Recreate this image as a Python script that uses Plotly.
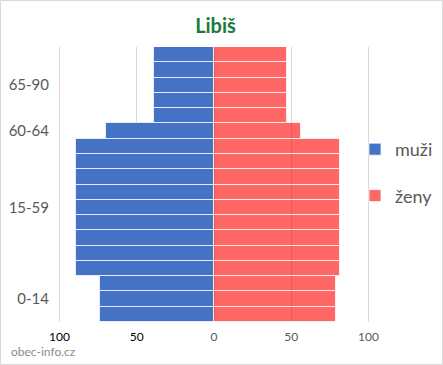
import plotly.graph_objects as go

# Data (one row per 5-year band, 0-14 at bottom)
row_index = list(range(18))
men = [74, 74, 74, 89.5, 89.5, 89.5, 89.5, 89.5, 89.5, 89.5, 89.5, 89.5, 70, 39, 39, 39, 39, 39]
women = [79, 79, 79, 81.5, 81.5, 81.5, 81.5, 81.5, 81.5, 81.5, 81.5, 81.5, 56, 47, 47, 47, 47, 47]
group_labels = ["0-14", "15-59", "60-64", "65-90"]
group_centers = [1, 7, 12, 15]
x_tickvals = [-100, -50, 0, 50, 100]
x_ticktext = ["100", "50", "0", "50", "100"]

font = "Lato, 'Open Sans', sans-serif"
W, H = 443, 365
ml, mr, mt, mb = 58, 73, 47, 43

fig = go.Figure()
fig.add_trace(go.Bar(
    y=row_index, x=[-v for v in men], orientation="h", name="muži",
    marker=dict(color="#4472C4", line=dict(color="rgba(255,255,255,0.75)", width=1)),
    legendgroup="m",
))
fig.add_trace(go.Bar(
    y=row_index, x=women, orientation="h", name="ženy",
    marker=dict(color="rgba(255,0,0,0.6)", line=dict(color="rgba(255,255,255,0.75)", width=1)),
    legendgroup="z",
))

ticktext_colored = [
    f"<span style='color:{'#000000' if v < 0 else '#595959'}'>{t}</span>"
    for v, t in zip(x_tickvals, x_ticktext)
]

pw = W - ml - mr
ph = H - mt - mb

fig.update_layout(
    width=W, height=H,
    margin=dict(l=ml, r=mr, t=mt, b=mb, autoexpand=False),
    paper_bgcolor="white", plot_bgcolor="white",
    barmode="overlay", bargap=0,
    font=dict(family=font, color="#595959"),
    title=dict(text="<b>Libiš</b>", x=(215.5) / W, xanchor="center",
               y=1 - 26 / H, yanchor="middle",
               font=dict(size=20, color="#1A7A3A", family=font)),
    xaxis=dict(range=[-101, 101], tickvals=x_tickvals, ticktext=ticktext_colored,
               showgrid=True, gridcolor="#D9D9D9", gridwidth=1, zeroline=False,
               showline=False, ticks="", ticklabelstandoff=6,
               tickfont=dict(size=12), fixedrange=True),
    yaxis=dict(range=[-0.5, 17.5], tickvals=group_centers, ticktext=group_labels,
               showgrid=False, zeroline=False, showline=False, ticks="",
               ticklabelstandoff=8,
               tickfont=dict(size=15, color="#595959"), fixedrange=True),
    legend=dict(x=(355 - ml) / pw, y=(322 - 131) / ph, xanchor="left", yanchor="top",
                font=dict(size=18, color="#595959"), tracegroupgap=20,
                itemwidth=30, bgcolor="rgba(0,0,0,0)"),
    showlegend=True,
    annotations=[dict(text="obec-info.cz", xref="paper", yref="paper",
                      x=(9 - ml) / pw, y=(322 - 351) / ph, xanchor="left", yanchor="middle",
                      showarrow=False, font=dict(size=12, color="#8C8C8C", family=font))],
    shapes=[dict(type="rect", xref="paper", yref="paper",
                 x0=(0.5 - ml) / pw, x1=(W - 0.5 - ml) / pw,
                 y0=-(mb - 0.5) / ph,
                 y1=1 + (mt - 0.5) / ph,
                 line=dict(color="#D9D9D9", width=1), layer="below")],
)

fig.write_html("out.html",
               config={"displayModeBar": False},
               post_script="document.body.style.margin='0';document.body.style.overflow='hidden';")
